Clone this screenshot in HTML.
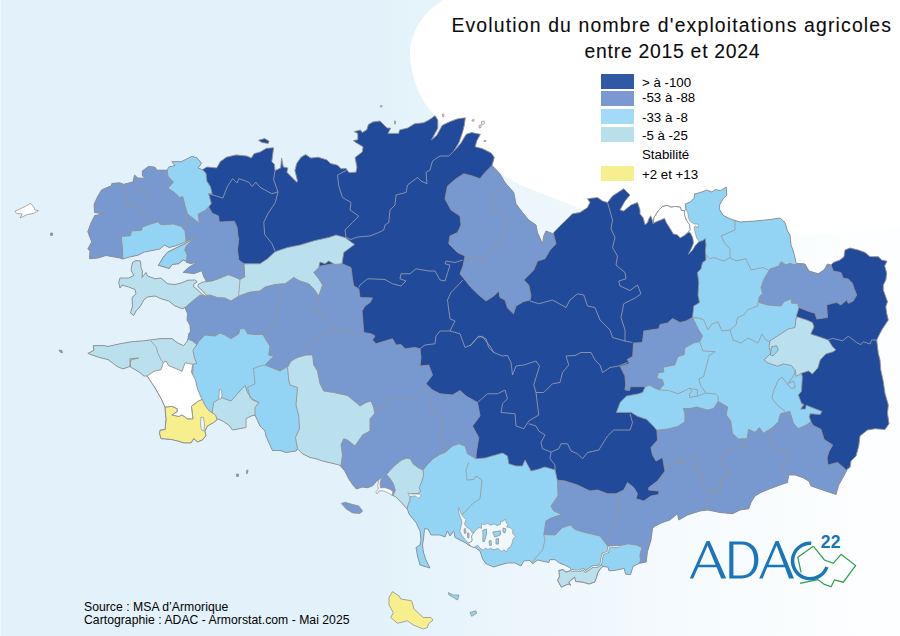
<!DOCTYPE html>
<html><head><meta charset="utf-8"><title>Evolution du nombre d'exploitations agricoles</title>
<style>
html,body{margin:0;padding:0;}
body{width:900px;height:636px;overflow:hidden;position:relative;font-family:"Liberation Sans",sans-serif;color:#111;
background:linear-gradient(90deg,#f3f9fd 0px,#f3f9fd 1px,#e3f2fa 1.5px,#e3f2fa 380px,#f3f9fd 640px,#fafdfe 790px,#fdfeff 900px);}
.ell{position:absolute;left:408px;top:-262px;width:640px;height:480px;border-radius:50%;background:#fff;}
.rw{position:absolute;left:800px;top:0;width:100px;height:636px;background:#fff;}
.t{position:absolute;white-space:nowrap;}
.title{font-size:19.4px;color:#0c0c0c;-webkit-text-stroke:0.1px #0c0c0c;}
.sw{position:absolute;left:601px;width:33px;height:15px;}
.lg{position:absolute;left:642px;font-size:12.3px;line-height:14px;white-space:nowrap;color:#000;transform:scaleX(1.08);transform-origin:0 0;}
.src{position:absolute;left:84px;font-size:12.2px;letter-spacing:0.03px;line-height:14px;white-space:nowrap;color:#000;}
</style></head><body>
<svg width="900" height="636" viewBox="0 0 900 636" style="position:absolute;left:0;top:0"><polygon points="455,-12 454.1,-11.1 452.9,-9.8 451.5,-8.2 449.9,-6.6 448.2,-4.8 446.5,-3.1 444.9,-1.4 443.3,0 441.8,1.3 440.2,2.4 438.6,3.5 437,4.6 435.5,5.6 433.9,6.7 432.5,7.8 431.1,8.9 429.8,10.1 428.6,11.3 427.4,12.5 426.3,13.8 425.2,15 424.2,16.3 423.2,17.6 422.2,18.9 421.3,20.2 420.3,21.6 419.5,22.9 418.6,24.3 417.8,25.7 417,27.1 416.3,28.6 415.6,30 414.9,31.5 414.2,32.9 413.6,34.4 413,36 412.4,37.5 411.9,39 411.5,40.6 411.1,42.2 410.8,43.8 410.5,45.4 410.3,47 410.1,48.7 410,50.4 410,52.1 410,53.8 410,55.6 410.1,57.4 410.3,59.3 410.5,61.3 410.8,63.2 411.1,65.2 411.4,67.2 411.8,69.1 412.2,71.1 412.6,73 413.1,75 413.6,76.9 414.1,78.9 414.7,80.9 415.3,82.8 416,84.8 416.7,86.7 417.5,88.7 418.3,90.6 419.3,92.6 420.2,94.6 421.2,96.5 422.2,98.5 423.3,100.4 424.4,102.2 425.5,104 426.7,105.7 427.9,107.4 429.1,109 430.4,110.7 431.7,112.3 433,113.9 434.4,115.6 435.8,117.3 437.3,118.9 438.8,120.6 440.3,122.3 441.9,123.9 443.5,125.6 445.2,127.3 447,129 448.8,130.7 450.7,132.4 452.6,134.1 454.6,135.8 456.6,137.5 458.7,139.3 460.8,141.1 463,143 465.2,145 467.5,147.1 469.8,149.2 472.2,151.4 474.6,153.6 477,155.8 479.5,157.9 482,160 484.6,162.1 487.2,164.1 489.9,166.2 492.7,168.2 495.4,170.2 498.1,172.1 500.7,173.9 503.3,175.6 505.8,177.1 508.1,178.5 510.4,179.8 512.7,181 515,182.2 517.3,183.3 519.7,184.4 522.2,185.6 524.8,186.8 527.5,187.9 530.3,189 533.1,190.1 535.9,191.1 538.8,192.2 541.6,193.3 544.4,194.4 547.2,195.5 550.1,196.7 553.1,197.9 556,199.1 558.8,200.2 561.6,201.3 564.2,202.3 566.7,203.3 568.8,204.1 570.5,204.8 572,205.4 573.5,206 575.1,206.6 576.9,207.3 579.2,208 582.2,208.9 585.7,209.9 589.6,211.1 593.8,212.3 598.3,213.6 603.2,214.9 608.5,216.3 614.1,217.7 620,219 626.3,220.4 633,221.8 640,223.3 647.4,224.8 655.1,226.2 663.1,227.6 671.4,228.9 680,230 689,231.1 698.6,232.1 708.5,233 718.8,233.9 729.1,234.6 739.5,235.2 749.9,235.7 760,236 770.1,236.1 780.2,236 790.4,235.8 800.6,235.4 810.7,234.9 820.7,234.3 830.5,233.7 840,233 849.7,232.2 859.8,231.2 870.1,230 880,228.8 889.3,227.6 897.7,226.6 904.7,225.7 910,225 910,-12" fill="#fff"/></svg>
<svg width="900" height="636" viewBox="0 0 900 636" style="position:absolute;left:0;top:0">
<defs><clipPath id="land"><polygon points="89.5,258.75 90,251 87.8,249 91.7,241.9 87.8,231.8 90.9,223.2 94.8,215.4 103.4,213.9 94.5,212.5 94,204.5 97.9,196 101.8,189.7 111.2,185.8 111.9,183.5 119.7,182.7 123.6,184.3 133,181.9 134.5,174.9 137.6,178 145.4,178 142.3,175.7 142.3,171 148.5,166.4 154.8,167.1 157.1,170.2 167.2,170.2 168.8,167.1 175,165.6 171.9,161.7 181.2,161.7 192.1,156.2 197.1,158.1 201.6,163.4 198,167.9 202.4,169.7 206.9,167 216.7,167.9 219,164 220.2,161.7 226.4,157.2 236.2,154.9 246.9,156 251.3,158.1 254,153.7 260.2,151.9 266.4,148.3 273.6,147.8 272.7,154.6 271.8,161.7 274.4,164.3 275,170.6 280.7,167.9 281.6,158.1 283.3,167 287.8,167.9 286.9,172.3 292.2,177.7 296.7,182.1 297.6,181.2 294.9,170.6 296.7,163.4 301.1,157.2 305.6,154.6 310.9,158.1 318,157.2 326.9,159.9 330.4,163.4 337.6,165.2 341.1,168.8 346.2,168.5 348.9,172.6 356,172.2 356.9,167.2 355.1,157.4 362.2,152.1 363.1,146.8 356.9,143.2 353.3,140.6 357.8,139.7 357.8,133.4 354.2,131.7 360.4,129.9 362.2,132.6 366.7,129.9 368.4,124.6 372.9,121.9 380,121 383.6,124.6 387.1,128.1 390.7,128.1 388,133.4 398.7,133.4 399.6,129.9 407.6,128.1 414.7,123.7 423.6,122.8 428.9,120.1 435.1,115.7 437.8,120.1 437.8,128.1 431.6,139.7 436.9,135.2 442.2,125.4 449.3,121.9 457.3,118.9 465.3,117.8 464.4,124.6 462.7,131.7 459.1,142.3 453.8,151.2 460.9,143.2 466.2,134.3 471.6,132.6 480.4,134.3 476.9,140.6 475.1,146.8 482.2,148.6 491.1,153 494.3,157.4 492,165.4 500,173.75 505,182.5 513.75,192.5 516,203.75 522.5,212.5 528.75,220 536,225 537.5,232.5 542.5,243.75 543.75,236 546,231 553.75,234 553.75,232.5 560,226 567.5,218.75 572.5,213.75 580,212.5 587.5,207.5 590,202.5 587.5,198.75 597.5,197.5 602.5,201 607.5,202.5 612.5,196 623.75,188.75 630,195 625,201 620,210 623.75,211 631,205 637.5,202.5 640,210 640,214 643.1,217.7 645,224.7 647.5,222.8 648.8,219 650.7,215.8 651.9,219 653.2,223.4 653.8,217.7 658.2,210.8 662.6,206.4 667,205.2 670.8,207 675.2,206.4 680.3,207 681.5,210.2 684.7,210.8 685.9,208.9 685.3,203.9 690.3,202 694.1,198.2 694.7,193.8 700.4,192.6 706.7,190 711.7,192 715.5,189.4 720.5,190.7 726.2,186.9 726.8,195 723,198.9 719.9,204.5 719.2,208.9 723,215.2 730.6,219 740,222 755,221 770,219.5 780,218 785,222.5 787.5,231 790,235 791,245 793.75,252.5 796,262.5 796.7,263.3 805,264 809,271 818.3,273.7 824,270 827.5,264 831,265 833.3,262.5 840,260 844,256.7 845,250 850,248 858.3,250 865,252.5 870,256.7 878.3,256.7 881.7,260 887,261.3 884.7,265.8 886.7,273.3 885.8,280 883.3,285 883.3,290 887.5,301.7 885.8,306.7 886.7,313.3 888.3,320 881.7,330 878.3,336.7 876.7,340 878.3,353.3 880,360 880.8,370 883.3,381.7 885,393.3 888.3,405 887.5,413.3 889,423.75 885,429.5 875,428.75 867.5,430 860,436 858.75,446 856,456 851,461 850,467.5 847.5,468.75 845,473.75 838.75,485 836,494.5 822.5,490 811,486 808.75,481 802.5,477.5 795,475 788.75,475 787.5,482.5 780,485 770,488.75 761,492.5 755,496 751,502.5 748.75,508.75 740,510 732.5,513.75 720,512.5 707.5,510 700,511 687.5,515 678.75,520 677.5,513.75 670,520 662.5,522.5 655,526 652.5,528.75 651,540 647.5,551.4 646.2,562.1 639.3,563.3 633,566.5 630.5,574.7 625.5,574 624.2,568.4 615.4,570.3 609.1,570.9 607.9,567.1 602.8,566.5 600.3,569 597.8,572.8 596.5,577.8 594.7,582.2 589,584.1 582.7,582.2 575.8,581.6 574.5,577.2 568.9,582.2 570.8,585.3 568.2,584.1 561.3,587.2 557.5,580.3 559.4,576.5 558.8,570.3 563.2,569.6 565.7,572.1 571.4,570.3 570.1,567.7 565.1,565.2 558.8,562.7 555,559.6 550,559.6 548.75,562.5 537.5,560 532.5,563.75 530,560.5 523.75,561 521,566 515,563 507.5,563 500,565 493.75,567 486,563.75 482.5,558.75 480,551 475,547.5 470,546 465,542.5 460,540 455,537.5 453.75,531 450,536 447.5,531 445,537 440,535 431,535 428,529 424.5,528.75 423.5,538.75 422.5,545 423.5,552.5 426,560 430,568 420,565 417.5,556 416,547.5 420,545 421,540 420,531 416,522.5 414.2,520.4 409.2,514.2 407.3,509.1 400.4,501.6 395.3,496.5 392.2,495.3 392.8,491.5 390.3,489.6 385.3,487.7 380.3,487.7 380,482.7 380.2,479 379,479.6 376.5,481.4 372.7,485.8 367.7,487.7 362,487.1 356.4,489 352.6,484.6 348.8,478.9 345,471.4 340.5,465.7 337.5,464.5 322.5,461 316,458.75 310,457.5 302.5,453.75 297.5,448.75 296,451 286,452.5 280,450.5 272.5,450.5 271,447.5 266,436 265,431 260,426 255,415 251,416 246,418.75 246,427.5 232.5,430 228.75,425 222.5,421 217.5,418.75 217.1,419.6 213.75,422.5 207.5,426 205,431 206,435.5 202.5,440 197.5,442 193.75,438.75 191,443 183.75,443 177.5,441 171,439.5 161,438.75 159.5,433.75 160,430 165,429.5 166,418.75 165.7,417.2 164.9,407.1 161,398.5 154.8,387.6 147,376 143.9,376 139.2,372.1 130.5,367 129.8,358.8 138.4,358 130.8,360 129.8,366.6 122.8,368.9 117.4,366.6 108,359.6 98.7,357.3 87.8,353.4 94,350.2 93.2,345.6 103.4,345.6 108,346.4 118.9,344 131.4,341.7 142.3,340.9 161,338.6 171.9,338.6 178.1,343.2 183.6,345.6 187.5,340.9 189,333.1 190.5,332.5 190,325.5 187,320 187.5,313.75 185,307.5 182.5,308.75 175,306 168.75,301 161,298.75 155,296 147.5,297 143.75,300 140.5,306 136,311 133.75,315.5 130.5,313 132.5,306 132,297.5 136,293.75 135,289.5 128.75,287 122,285 120,288 118.75,282.5 120,278 128.75,278 133.75,275.5 131,270 132.5,262.5 136,260.5 140.5,261 141,267.5 142.5,271 142,277.5 146,272.5 147.5,276 155,278.75 161,278 167.5,283.75 175,284.5 181,283 187.9,280.2 194.9,279.9 197.2,281.7 194.1,284 193.3,286.4 196.4,288.7 199.6,291.9 203.5,295 207.4,297.3 205,293.4 201.1,289.5 197.8,286.4 198.6,284 203.5,281.9 206.6,281.7 203.5,276.3 201.9,270.8 194.1,273.6 183.2,272.4 187.9,268 198,261.5 191,263.8 186.3,262.3 186.3,261.5 183.2,259.9 178.5,263.8 172.3,264.6 169.2,268.5 161.4,266.2 158.3,265.4 163,257.6 167.6,252.1 175.4,248.2 184.8,243.6 194.1,238.4 194.9,237.3 187.9,240.5 183.2,242.8 175.4,245.9 169.2,247.5 164.5,245.1 159.8,249 152,250.6 144.3,252.1 138,255.2 130.2,256.8 122.5,259.1 120,258 106,255.5 98,258"/></clipPath></defs>
<g clip-path="url(#land)">
<rect x="0" y="0" width="900" height="636" fill="#214a9b"/>
<polygon points="80,150 200,150 200,200 208.7,207 212.2,213.2 218.4,215.9 219.3,222.1 234.4,221.2 237.1,227.4 238,236.3 238.75,238.75 237.5,250 238.75,260 244,263.8 244.7,290 80,290" fill="#7899d0" stroke="#929292" stroke-width="0.9" stroke-linejoin="round"/>
<polygon points="342,263.75 351,267.5 352.5,278.75 353.75,286 358.75,288.75 360,297.5 372.5,298 370,302.5 365,306 362,311 363,322.5 363.75,332.5 371,333.75 375,336 372.5,340 376,343.75 385,341 392.5,338.75 396,345 401,344.5 405,348.75 415,347.5 420,348.75 421,357.5 420,366 428.75,365 432.5,375 426,383.75 432.5,390 440,393.75 452.5,395 460,390.5 466,396 477.5,402.5 480,416 472.5,426 478.75,437.5 476,455 476,458.75 476,475 430,480 400,500 340,510 320,470 250,470 250,350 180,350 180,300 200,290 245,285 300,270 342,262" fill="#7899d0" stroke="#929292" stroke-width="0.9" stroke-linejoin="round"/>
<polygon points="492,165.4 485,172.5 480,178.75 472.5,176 463.75,173.75 456,178.75 447.5,186 445,198.75 451,210 460,216 461,225 457.5,232.5 450,236 448.75,243.75 457.5,252.5 465,256 463,266 460,273.75 465,280 471,287.5 478.75,295 486,301 493.75,296 498.75,291 500,297.5 505,300 507.5,308 513.5,313.75 516,306 523.75,301.5 530,300 531,296 528.75,285 523.75,280 533.75,270 537.5,261 545,258.75 550,250 556,243.75 553.75,235 548,225 520,180 497,160" fill="#7899d0" stroke="#929292" stroke-width="0.9" stroke-linejoin="round"/>
<polygon points="692.5,317.5 686,321 680,322.5 672.5,318.5 667.5,323 660,324.5 658.75,328.75 643.75,331 642.5,342.5 633.5,343.1 632.7,356.4 627.3,359.5 629.6,363.4 620.2,366.5 624.9,375.8 625.7,385.2 624.9,389.8 629.6,390.6 630.4,386.7 642.1,386.7 645.2,386.7 650,395 705,395 705,315" fill="#7899d0" stroke="#929292" stroke-width="0.9" stroke-linejoin="round"/>
<polygon points="555,470 556,480 565,481 577.5,485 590,491 597.5,490 607.5,493.75 616,493.75 623.75,490 627.5,482.5 633.75,487.5 637.5,493.75 636,498.75 643.75,501 651,496 658.75,494.5 658.75,491 648.75,490 648.75,487.5 657.5,481 665,471 662.5,457.5 656,461 652.5,455 651,447.5 657.5,440 656.9,430.3 660,397 795,398 798,412 806,420 810.9,421.5 813.2,425.4 821,429.3 824.1,439.4 832.7,444.9 828.8,451.9 827,458 828,465 837.5,462.5 845,468.75 855,480 855,600 540,600 540,480" fill="#7899d0" stroke="#929292" stroke-width="0.9" stroke-linejoin="round"/>
<polygon points="167.2,170.2 168,176.5 173.5,181.9 168,188.2 175,192.8 179.7,197.5 182.8,196.7 185.1,206.1 187.5,213.9 195.3,220.1 199.2,223.2 198.4,213.9 205,210.5 208.7,207 211.3,203.4 208.7,193.7 212.2,193.7 210.4,186.6 206.9,181.2 206,173.2 202.4,169.7 202.4,150 167.2,150" fill="#93d4f5" stroke="#929292" stroke-width="0.9" stroke-linejoin="round"/>
<polygon points="122.8,259.1 122.5,249 121.3,236.4 130.6,235.7 131.4,231 141.5,230.2 142.3,227.1 148.5,224.8 157.9,221.7 161,224.8 173.5,224 181.2,226.3 185.1,231 185.9,238.8 186,241 183.2,244 170,249 160,251 145,254 125,263" fill="#93d4f5" stroke="#929292" stroke-width="0.9" stroke-linejoin="round"/>
<polygon points="194.1,238.4 186.3,245.9 184.8,249.8 187.1,255.2 186.3,261.5 183.2,259.9 178.5,263.8 172.3,264.6 169.2,268.5 161.4,266.2 158.3,265.4 163,257.6 167.6,252.1 175.4,248.2 184.8,243.6" fill="#93d4f5" stroke="#929292" stroke-width="0.9" stroke-linejoin="round"/>
<polygon points="196.8,344.8 199,341 205,335 215,336 220,333 225,335 231,338.75 238.75,333.75 240,328.75 245,328.75 247.5,333.75 255,334.5 263,334.5 266,340 270,346 268.75,355 273.75,356 265,365 272.5,368 280,371 290,365 300,365 300,455 250,455 200,420 185,400 185,345" fill="#93d4f5" stroke="#929292" stroke-width="0.9" stroke-linejoin="round"/>
<polygon points="423,470.1 428,463.8 433,458.8 440,454.4 445,452.5 452.5,446 458.75,443.75 465,446 467.5,453.75 476,458.75 485,458 502.5,453 507.5,456 508.75,463.75 516,466 522.5,466 525,460 531,471 537.5,469.5 545,467 555,470 557.5,481 558,496 551,506 553.75,511 562,514.5 551,518 546,521 543.75,534.5 555,535 562.5,527.5 570.5,525 575,529.5 585,532.5 600,536 605,542.5 607.5,546 608.5,547 619.2,545.7 628,543.8 636.8,545.1 641.8,547.6 639.9,555.2 640.6,560.2 639.3,563.3 639,590 405,590 405,480" fill="#93d4f5" stroke="#929292" stroke-width="0.9" stroke-linejoin="round"/>
<polygon points="699.1,241.6 702.9,240.4 705.4,238.5 706,245.4 705.4,250.4 706,260 702.5,262.5 701,268.75 697.5,272.5 698.75,282.5 698,295 699.5,302.5 693.75,306 692.5,317.5 693.75,320 698.75,330 702.5,336 699.7,341.6 693.5,343.1 684.9,347.8 684.1,354.8 677.9,356.4 674.8,364.9 663.1,367.3 663.9,371.9 658.4,372.7 656.9,378.2 662.3,379.7 663.9,384.4 659.2,389.8 653.7,387.5 649.8,385.2 645.2,386.7 642.8,392.2 638.9,393.7 626.5,396.1 620.2,402.3 616.4,412.4 631.2,412.4 637.4,416.3 646.7,419.4 653,425.7 656.9,430.3 668.5,428.8 677.9,426.4 684.9,421.8 684.9,413.2 683.3,408.5 690.3,408.5 696.6,407 707.5,410.1 713.7,408.5 717.6,402.3 718.4,401.5 727.7,407 726.2,414.8 730.8,421 732.4,433.5 738.6,439 743.75,438.75 747,438.7 748.6,429.3 754.8,432.4 759.5,427.8 763.4,433.2 771.2,428.5 778.2,422.3 780.5,413.7 789.8,411.4 793.7,423.9 798.4,428.5 807,424.6 810.9,421.5 809.3,416.9 810.1,413.7 820.2,414.5 821.8,411.4 806.2,405.2 805.4,409.1 800.7,409.1 803.9,404.4 801.5,403.6 798.4,395 801.5,391.2 802.3,377.1 801.5,373.2 799,368 796,360 795.5,328 796.7,315 799,307.5 803,300 803,180 684.5,180 684.5,203 685.3,209 686.5,215 688,221 692,226 692.5,232 694.5,238 697,241" fill="#93d4f5" stroke="#929292" stroke-width="0.9" stroke-linejoin="round"/>
<polygon points="796.7,263.3 805,264 809,271 818.3,273.7 824,270 827.5,264 831,265 833.3,271 841,272.5 843.3,278.3 848.3,279 852.5,283.3 854,288.3 856.7,295 853.3,301 848.3,303.3 846.7,300 841,305 836.7,302.5 832.5,303.3 826.7,305 827.5,317.5 816.7,319 815,313.3 807.5,311 799,307.5 797.5,303.3 791.7,303.3 791,299 784,301.7 781,306 767.5,305 759,302.5 759,297.5 762.5,293.3 761,287.5 764,279 770,269 779,266 781,261.7 786,265 790,263.3 795,265" fill="#7899d0" stroke="#929292" stroke-width="0.9" stroke-linejoin="round"/>
<polygon points="206.6,281.7 212,281 219,278.6 228.4,274.7 234.6,277 240,279.4 244.7,277 244,263.8 260,263.75 267.5,258.75 275,251.75 287.5,247.5 300,245 315,240.5 328.75,237.5 336,235 345,237.5 354.5,244.5 348.75,248.75 343.75,252.5 342,263.75 335,264.5 328.75,261 325,263.75 320,262 318.75,267.5 313.75,272.5 318.75,278.75 322.5,285 318.75,296 313.75,288.75 308.75,283.75 300,281 293.75,277.5 285,283.75 282.5,283.75 275,284.5 265,287 260,291 250,292 238.75,296 231,301 225,298 217.5,297.5 210,295 205,295.5 200,295 192.5,301 185,307.5 180,320 110,320 110,275 128,258.5 145,258.5 165,275 186,276.5 200,278.5" fill="#b9e0ec" stroke="#929292" stroke-width="0.9" stroke-linejoin="round"/>
<polygon points="186,336 187.5,338.75 192.5,341 196.8,344.8 192.9,350.2 194.5,358 196.8,363.5 192.9,364.3 192.5,385 140,385 80,360 80,335" fill="#b9e0ec" stroke="#929292" stroke-width="0.9" stroke-linejoin="round"/>
<polygon points="212.5,410 213.75,402.5 221,397.5 231,401 240,391 245,385.5 247.5,392.5 252.5,400 258.75,402.5 255,407.5 255,415 258,432 215,432 212,420" fill="#b9e0ec" stroke="#929292" stroke-width="0.9" stroke-linejoin="round"/>
<polygon points="287.5,367.5 291,361 297.5,357.5 306,355 312.5,355 313.75,365 317.5,371 320,383.75 323.75,391 333.75,392.5 347.5,395.5 356,402.5 360,406 366,402.5 371,401 373.75,407.5 374.5,413.75 370,418.75 370,431 362.5,435 355,446 347.5,440 343.75,438.75 341,445 342.5,455 341,465 335,472 295,460 297.5,448.75 295.5,437.5 299.5,428.75 298.75,416 296,405 297.5,387.5 290,385 288.75,380" fill="#b9e0ec" stroke="#929292" stroke-width="0.9" stroke-linejoin="round"/>
<polygon points="386.5,474.5 390.3,470.1 395.3,465.1 401.6,460.1 406.7,458.2 410.4,458.8 413,463.8 418,467.6 423,470.1 423.6,475.2 421.8,481.4 419.2,487.7 420.5,491.5 418,493.4 410.4,494 409.8,500.3 407.9,505.3 407.3,509.1 400,509 392.2,497 395.3,490.3 393.5,484 390.3,478.9" fill="#b9e0ec" stroke="#929292" stroke-width="0.9" stroke-linejoin="round"/>
<polygon points="571.4,570.3 565.7,572.1 563.2,569.6 558.8,570.3 559.4,576.5 557.5,580.3 561.3,587.2 568.2,584.1 570.8,585.3 568.9,582.2 574.5,577.2 575.8,581.6 582.7,582.2 589,584.1 594.7,582.2 596.5,577.8 597.8,572.8 600.3,569 602.8,566.5 600.9,564 597.8,566.5 592.8,566.5 589,569 585.8,571.5 582.7,569 579.6,570.9 575.2,570.9" fill="#b9e0ec" stroke="#929292" stroke-width="0.9" stroke-linejoin="round"/>
<polygon points="795.8,320 795,327.5 788.3,329 779,335 770,340.8 769,346.7 770.8,353.3 764,360 768,363 777.4,366.2 783.6,363.9 791.4,365.5 795.3,370.1 796.1,376.4 801.5,373.2 808.5,370.9 812.4,374 817.9,367.8 820.2,360 825.8,354 833.3,351.7 835.8,349.7 832.5,346.7 828.3,340 819,336.7 810.8,334 814,326.7 812.5,322.5 806.7,320 796.7,316.7" fill="#b9e0ec" stroke="#929292" stroke-width="0.9" stroke-linejoin="round"/>
<polygon points="771.7,346.7 776.7,345.8 778.3,350 773.3,355.8 770.3,355" fill="#93d4f5" stroke="#929292" stroke-width="0.9" stroke-linejoin="round"/>
<polygon points="164.9,407.1 171.9,406.3 177.3,408.7 177.3,411.8 171.9,414.9 178.9,416.4 182,414.9 187.5,418.8 192.9,418.8 191.4,406.3 198.4,400.9 202.3,399.3 204.6,404.8 209.3,411 215.5,414.9 217.1,419.6 213.75,422.5 207.5,426 205,431 206,435.5 202.5,440 197.5,442 193.75,438.75 191,443 183.75,443 177.5,441 171,439.5 161,438.75 159.5,433.75 160,430 165,429.5 166,418.75 165.7,417.2" fill="#f7ee8e" stroke="#929292" stroke-width="0.9" stroke-linejoin="round"/>
<polygon points="147,376 154,371.3 161,369.7 163.3,362.7 166,361 168.8,365.8 175,368.2 182,371.3 185.1,362.7 192.9,364.3 191.4,372.1 195.3,379.8 197.6,389.2 201.5,398.5 202.3,399.3 198.4,400.9 191.4,406.3 192.9,418.8 187.5,418.8 182,414.9 178.9,416.4 171.9,414.9 177.3,411.8 177.3,408.7 171.9,406.3 164.9,407.1 161,398.5 154.8,387.6" fill="#ffffff" stroke="#929292" stroke-width="0.9" stroke-linejoin="round"/>
<polygon points="653.2,223.4 653.8,217.7 658.2,210.8 662.6,206.4 667,205.2 670.8,207 675.2,206.4 680.3,207 681.5,210.2 684.7,210.8 684.7,215.2 686.5,220.3 689.7,224.7 690.3,229.7 688.4,232.2 684.7,235.3 680.3,237.9 677.1,234.7 673.3,234.1 670.8,229.7 666.4,222.8 664.5,218.4 660.1,220.3 655.7,222.1" fill="#ffffff" stroke="#929292" stroke-width="0.9" stroke-linejoin="round"/>
<polyline points="123.6,184.3 126.7,193.6 124.4,196.7 126,206.1 129.8,207.6 133.7,205.3 139.2,207.6 142.3,213.9 147,218.5 152.4,223.2" fill="none" stroke="#979797" stroke-width="0.8" stroke-linejoin="round"/>
<polyline points="133,181.9 136.9,188.9 143.9,190.5 148.5,193.6 148.5,196.7 151.7,192.8" fill="none" stroke="#979797" stroke-width="0.8" stroke-linejoin="round"/>
<polyline points="187.5,213.9 184.4,217 187.5,220.1 183.6,227.1" fill="none" stroke="#979797" stroke-width="0.8" stroke-linejoin="round"/>
<polyline points="208.7,193.7 222.9,198.1 227.3,186.6 232.7,178.6 237.1,183 238.9,178.6 248.7,182.1 252.2,186.6 255.8,182.1 260.2,187.4 271.8,193.7 278,191.9" fill="none" stroke="#9fa3ad" stroke-width="0.8" stroke-linejoin="round"/>
<polyline points="275,170.6 273.6,179.4 278,191.9 275.3,202.6 268.2,213.2 263.8,222.1 264.7,234.6 271.8,243.4 275,251" fill="none" stroke="#9fa3ad" stroke-width="0.8" stroke-linejoin="round"/>
<polyline points="347,170 337.5,175 338.75,186 342.5,197.5 351,202.5 350,210 358.75,216 352.5,222.5 345,230 346,237.5" fill="none" stroke="#9fa3ad" stroke-width="0.8" stroke-linejoin="round"/>
<polyline points="346,237.5 351,239.5 357.5,237 370,236 378.75,232.5 383.75,230 385,225 388.75,222.5 390,210 395,205 396,195 406,192.5 407.5,185 417.5,177.5 421,181 427,183.75 426,172.5 430,170 432.5,161 440,156 448.75,156 453.8,151.2" fill="none" stroke="#9fa3ad" stroke-width="0.8" stroke-linejoin="round"/>
<polyline points="505,182.5 500,190 493.75,195 491,210 503.75,213.75 507.5,227.5 501,231 503.75,241 493.75,247.5 485,260 476,258.75 466,256" fill="none" stroke="#979797" stroke-width="0.8" stroke-linejoin="round"/>
<polyline points="358.75,287.5 360,285 367.5,278.75 385,279.5 392.5,283.75 401,286 406,281 400,278.75 401,273.75 410,273.75 416,268.75 428.75,271 435,271 440,280 445,281 450,265 445,263.75 446,261 455,262.5 462.5,260" fill="none" stroke="#9fa3ad" stroke-width="0.8" stroke-linejoin="round"/>
<polyline points="463,280 451,292.5 447.5,300 448.75,310 450,318.75 455,321 450,331 440,331 436,336 435,343.75 425,345 420,348.75" fill="none" stroke="#9fa3ad" stroke-width="0.8" stroke-linejoin="round"/>
<polyline points="450,331 460,333.75 465,347.5 471,345 477.5,337.5 482.5,336 485,340 490,346 493.75,352.5 502.5,356 507.5,355.5 511,362.5 512.5,375 516,366 523.75,365 536,361 539.5,366 536,377.5 533.75,385 536,392.5 543.75,392.5 552.5,383.75 560,382.5 562.5,372.5 568.75,365 566,356 575,355.5 581,352.5 591,352.5 595,360 600,365 602.5,372.5 610,367.5 618.75,366 627.5,362.5" fill="none" stroke="#9fa3ad" stroke-width="0.8" stroke-linejoin="round"/>
<polyline points="470,346 478.75,336 486,338.75 488.75,347.5 493.75,352.5" fill="none" stroke="#9fa3ad" stroke-width="0.8" stroke-linejoin="round"/>
<polyline points="477.5,402.5 487.5,393.75 497.5,393.75 505,390 507.5,398.75 502.5,403.75 501,412.5 515,413.75 516,426 523.75,428.75 528.75,421 538.75,415 537.5,405 536,392.5" fill="none" stroke="#9fa3ad" stroke-width="0.8" stroke-linejoin="round"/>
<polyline points="528.75,423.75 536,426 538.75,431 545,435 541,442.5 542.5,448.75 551,452 558.75,448.75 561,443.75 567.5,443.75 571,451 577.5,453.75 582.5,458.75 587.5,452.5 598.75,450 605,440 607.5,436 613.75,430 630,430 632.5,422.5 630,413.75" fill="none" stroke="#9fa3ad" stroke-width="0.8" stroke-linejoin="round"/>
<polyline points="551,452 550,458.75 555,465 555,470" fill="none" stroke="#9fa3ad" stroke-width="0.8" stroke-linejoin="round"/>
<polyline points="530,301 538.75,303.75 552.5,300 566,307.5 570,300 577.5,293.75 583.75,295 587.5,306 595,307.5 600,320 610,330 612.5,337.5 625,341 632.5,342.5" fill="none" stroke="#9fa3ad" stroke-width="0.8" stroke-linejoin="round"/>
<polyline points="607.5,202.5 610,211 612.5,220 611,228.75 615,237.5 612.5,247.5 617.5,256 616,265 625,272.5 626,278.75 618.75,281 620,286 630,290.5 637.5,285 641,293.75 636,297.5 623.75,303.75 621,317.5 625,330 625,341" fill="none" stroke="#9fa3ad" stroke-width="0.8" stroke-linejoin="round"/>
<polyline points="282.5,283.75 281,297.5 277.5,310 275,322.5 267.5,328.75 263,334.5" fill="none" stroke="#979797" stroke-width="0.8" stroke-linejoin="round"/>
<polyline points="318.75,296 316,305 313.75,312.5 322.5,315 331,321 332.5,331 345,330 352.5,332.5 363,332" fill="none" stroke="#979797" stroke-width="0.8" stroke-linejoin="round"/>
<polyline points="332.5,331 322.5,335 311,340 307.5,348.75 306,355" fill="none" stroke="#979797" stroke-width="0.8" stroke-linejoin="round"/>
<polyline points="373.75,407.5 381,411 387.5,398.75 398.75,395.5 408.75,398.75 416,396 426,385.5" fill="none" stroke="#979797" stroke-width="0.8" stroke-linejoin="round"/>
<polyline points="432.5,390 429.5,402.5 431,410 440,416 442.5,426 440,436 443.75,442.5 445,452.5" fill="none" stroke="#979797" stroke-width="0.8" stroke-linejoin="round"/>
<polyline points="150.9,340.9 156.3,347.1 157.9,353.4 161,359.6 163.3,362.7" fill="none" stroke="#979797" stroke-width="0.8" stroke-linejoin="round"/>
<polyline points="240,279.4 239.3,288 238.5,295.5" fill="none" stroke="#979797" stroke-width="0.8" stroke-linejoin="round"/>
<polyline points="247.5,387.5 255,383.75 253.75,371 253,368.75 260,366 265,365" fill="none" stroke="#979797" stroke-width="0.8" stroke-linejoin="round"/>
<polyline points="247.5,387.5 250,397.5 258.75,402.5" fill="none" stroke="#979797" stroke-width="0.8" stroke-linejoin="round"/>
<polyline points="468.75,462.5 466,470 467,480 473.75,479.5 476,476 482,480 480,498.75 472.5,503.75 466,511 461,515" fill="none" stroke="#979797" stroke-width="0.8" stroke-linejoin="round"/>
<polyline points="543.75,534.5 545,540 542.5,550 536,557.5 531,563.75" fill="none" stroke="#979797" stroke-width="0.8" stroke-linejoin="round"/>
<polyline points="616,493.75 618.75,507.5 615,522.5 607.5,537.5 605,542.5" fill="none" stroke="#979797" stroke-width="0.8" stroke-linejoin="round"/>
<polyline points="665,467.5 680,460 682.5,465 685,458.75 696,456 698.75,463.75 692.5,467.5 700,472.5 702.5,487.5 711,492.5 720,490 721,481 730,472.5" fill="none" stroke="#979797" stroke-width="0.8" stroke-linejoin="round"/>
<polyline points="711,492.5 707.5,502.5 707.5,510" fill="none" stroke="#979797" stroke-width="0.8" stroke-linejoin="round"/>
<polyline points="743.75,438.75 746,445 735,448.75 723.75,451 721,465 728.75,467.5 730,472.5 721,480 720,487.5 722.5,490 712.5,492.5" fill="none" stroke="#979797" stroke-width="0.8" stroke-linejoin="round"/>
<polyline points="771.2,428.5 768,439.4 778.2,449.6 785.2,450.3 790,458 782.5,465 782.5,472.5 788.75,475" fill="none" stroke="#979797" stroke-width="0.8" stroke-linejoin="round"/>
<polyline points="675,458.75 681,460 683.75,463.75" fill="none" stroke="#979797" stroke-width="0.8" stroke-linejoin="round"/>
<polyline points="735,221 735,230 726,233.75 721,236 725,243.75 730,248.75 730,257.5 723.75,261 713.75,257.5 710,258.75 706,255" fill="none" stroke="#979797" stroke-width="0.8" stroke-linejoin="round"/>
<polyline points="730,257.5 736,261 746,258.75 751,270 762.5,267.5 768.75,270" fill="none" stroke="#979797" stroke-width="0.8" stroke-linejoin="round"/>
<polyline points="758.75,300 757.5,306 747.5,310 743.75,315 737.5,317.5 736,325 730,330 722,331 718,322 712,324 708,330 703.75,320 698.75,318 692.5,317.5" fill="none" stroke="#979797" stroke-width="0.8" stroke-linejoin="round"/>
<polyline points="659.2,389.8 668.5,390.6 677.9,393.7 684.9,390.6 689.6,388.3 691.9,391.4 689.6,393.7 689.6,397.6 697.4,396.1 705.9,393 712.1,393.7 715.3,393.7 718.4,396.9 718,401.5" fill="none" stroke="#979797" stroke-width="0.8" stroke-linejoin="round"/>
<polyline points="689.6,388.3 697.4,389.8 697.4,396.1" fill="none" stroke="#979797" stroke-width="0.8" stroke-linejoin="round"/>
<polyline points="699.7,341.6 702.8,350.9 715.3,351.7 709,355.6 705.9,368 703.6,376.6 698.9,378.9 700.5,385.2 705.9,393" fill="none" stroke="#979797" stroke-width="0.8" stroke-linejoin="round"/>
<polyline points="730,330 733,340 741,343 748,338 758,343 762,334 766,340 770,342" fill="none" stroke="#979797" stroke-width="0.8" stroke-linejoin="round"/>
<polyline points="795.3,370.1 793.7,375.6 788.3,383.4 793.7,381 795.3,387.3 791.4,388.8 786.7,383.4 782.1,377.1 778.2,380.2 773.5,391.2 771.9,398.2 777.4,405.2 785.2,411.4" fill="none" stroke="#979797" stroke-width="0.8" stroke-linejoin="round"/>
<polyline points="828.3,340 832.5,338.3 842.5,340.8 848.3,336.3 856.7,342.5 860.8,344.7 863.3,341.7 870,344 871.7,340 876.7,340" fill="none" stroke="#9fa3ad" stroke-width="0.8" stroke-linejoin="round"/>
</g>
<polygon points="89.5,258.75 90,251 87.8,249 91.7,241.9 87.8,231.8 90.9,223.2 94.8,215.4 103.4,213.9 94.5,212.5 94,204.5 97.9,196 101.8,189.7 111.2,185.8 111.9,183.5 119.7,182.7 123.6,184.3 133,181.9 134.5,174.9 137.6,178 145.4,178 142.3,175.7 142.3,171 148.5,166.4 154.8,167.1 157.1,170.2 167.2,170.2 168.8,167.1 175,165.6 171.9,161.7 181.2,161.7 192.1,156.2 197.1,158.1 201.6,163.4 198,167.9 202.4,169.7 206.9,167 216.7,167.9 219,164 220.2,161.7 226.4,157.2 236.2,154.9 246.9,156 251.3,158.1 254,153.7 260.2,151.9 266.4,148.3 273.6,147.8 272.7,154.6 271.8,161.7 274.4,164.3 275,170.6 280.7,167.9 281.6,158.1 283.3,167 287.8,167.9 286.9,172.3 292.2,177.7 296.7,182.1 297.6,181.2 294.9,170.6 296.7,163.4 301.1,157.2 305.6,154.6 310.9,158.1 318,157.2 326.9,159.9 330.4,163.4 337.6,165.2 341.1,168.8 346.2,168.5 348.9,172.6 356,172.2 356.9,167.2 355.1,157.4 362.2,152.1 363.1,146.8 356.9,143.2 353.3,140.6 357.8,139.7 357.8,133.4 354.2,131.7 360.4,129.9 362.2,132.6 366.7,129.9 368.4,124.6 372.9,121.9 380,121 383.6,124.6 387.1,128.1 390.7,128.1 388,133.4 398.7,133.4 399.6,129.9 407.6,128.1 414.7,123.7 423.6,122.8 428.9,120.1 435.1,115.7 437.8,120.1 437.8,128.1 431.6,139.7 436.9,135.2 442.2,125.4 449.3,121.9 457.3,118.9 465.3,117.8 464.4,124.6 462.7,131.7 459.1,142.3 453.8,151.2 460.9,143.2 466.2,134.3 471.6,132.6 480.4,134.3 476.9,140.6 475.1,146.8 482.2,148.6 491.1,153 494.3,157.4 492,165.4 500,173.75 505,182.5 513.75,192.5 516,203.75 522.5,212.5 528.75,220 536,225 537.5,232.5 542.5,243.75 543.75,236 546,231 553.75,234 553.75,232.5 560,226 567.5,218.75 572.5,213.75 580,212.5 587.5,207.5 590,202.5 587.5,198.75 597.5,197.5 602.5,201 607.5,202.5 612.5,196 623.75,188.75 630,195 625,201 620,210 623.75,211 631,205 637.5,202.5 640,210 640,214 643.1,217.7 645,224.7 647.5,222.8 648.8,219 650.7,215.8 651.9,219 653.2,223.4 653.8,217.7 658.2,210.8 662.6,206.4 667,205.2 670.8,207 675.2,206.4 680.3,207 681.5,210.2 684.7,210.8 685.9,208.9 685.3,203.9 690.3,202 694.1,198.2 694.7,193.8 700.4,192.6 706.7,190 711.7,192 715.5,189.4 720.5,190.7 726.2,186.9 726.8,195 723,198.9 719.9,204.5 719.2,208.9 723,215.2 730.6,219 740,222 755,221 770,219.5 780,218 785,222.5 787.5,231 790,235 791,245 793.75,252.5 796,262.5 796.7,263.3 805,264 809,271 818.3,273.7 824,270 827.5,264 831,265 833.3,262.5 840,260 844,256.7 845,250 850,248 858.3,250 865,252.5 870,256.7 878.3,256.7 881.7,260 887,261.3 884.7,265.8 886.7,273.3 885.8,280 883.3,285 883.3,290 887.5,301.7 885.8,306.7 886.7,313.3 888.3,320 881.7,330 878.3,336.7 876.7,340 878.3,353.3 880,360 880.8,370 883.3,381.7 885,393.3 888.3,405 887.5,413.3 889,423.75 885,429.5 875,428.75 867.5,430 860,436 858.75,446 856,456 851,461 850,467.5 847.5,468.75 845,473.75 838.75,485 836,494.5 822.5,490 811,486 808.75,481 802.5,477.5 795,475 788.75,475 787.5,482.5 780,485 770,488.75 761,492.5 755,496 751,502.5 748.75,508.75 740,510 732.5,513.75 720,512.5 707.5,510 700,511 687.5,515 678.75,520 677.5,513.75 670,520 662.5,522.5 655,526 652.5,528.75 651,540 647.5,551.4 646.2,562.1 639.3,563.3 633,566.5 630.5,574.7 625.5,574 624.2,568.4 615.4,570.3 609.1,570.9 607.9,567.1 602.8,566.5 600.3,569 597.8,572.8 596.5,577.8 594.7,582.2 589,584.1 582.7,582.2 575.8,581.6 574.5,577.2 568.9,582.2 570.8,585.3 568.2,584.1 561.3,587.2 557.5,580.3 559.4,576.5 558.8,570.3 563.2,569.6 565.7,572.1 571.4,570.3 570.1,567.7 565.1,565.2 558.8,562.7 555,559.6 550,559.6 548.75,562.5 537.5,560 532.5,563.75 530,560.5 523.75,561 521,566 515,563 507.5,563 500,565 493.75,567 486,563.75 482.5,558.75 480,551 475,547.5 470,546 465,542.5 460,540 455,537.5 453.75,531 450,536 447.5,531 445,537 440,535 431,535 428,529 424.5,528.75 423.5,538.75 422.5,545 423.5,552.5 426,560 430,568 420,565 417.5,556 416,547.5 420,545 421,540 420,531 416,522.5 414.2,520.4 409.2,514.2 407.3,509.1 400.4,501.6 395.3,496.5 392.2,495.3 392.8,491.5 390.3,489.6 385.3,487.7 380.3,487.7 380,482.7 380.2,479 379,479.6 376.5,481.4 372.7,485.8 367.7,487.7 362,487.1 356.4,489 352.6,484.6 348.8,478.9 345,471.4 340.5,465.7 337.5,464.5 322.5,461 316,458.75 310,457.5 302.5,453.75 297.5,448.75 296,451 286,452.5 280,450.5 272.5,450.5 271,447.5 266,436 265,431 260,426 255,415 251,416 246,418.75 246,427.5 232.5,430 228.75,425 222.5,421 217.5,418.75 217.1,419.6 213.75,422.5 207.5,426 205,431 206,435.5 202.5,440 197.5,442 193.75,438.75 191,443 183.75,443 177.5,441 171,439.5 161,438.75 159.5,433.75 160,430 165,429.5 166,418.75 165.7,417.2 164.9,407.1 161,398.5 154.8,387.6 147,376 143.9,376 139.2,372.1 130.5,367 129.8,358.8 138.4,358 130.8,360 129.8,366.6 122.8,368.9 117.4,366.6 108,359.6 98.7,357.3 87.8,353.4 94,350.2 93.2,345.6 103.4,345.6 108,346.4 118.9,344 131.4,341.7 142.3,340.9 161,338.6 171.9,338.6 178.1,343.2 183.6,345.6 187.5,340.9 189,333.1 190.5,332.5 190,325.5 187,320 187.5,313.75 185,307.5 182.5,308.75 175,306 168.75,301 161,298.75 155,296 147.5,297 143.75,300 140.5,306 136,311 133.75,315.5 130.5,313 132.5,306 132,297.5 136,293.75 135,289.5 128.75,287 122,285 120,288 118.75,282.5 120,278 128.75,278 133.75,275.5 131,270 132.5,262.5 136,260.5 140.5,261 141,267.5 142.5,271 142,277.5 146,272.5 147.5,276 155,278.75 161,278 167.5,283.75 175,284.5 181,283 187.9,280.2 194.9,279.9 197.2,281.7 194.1,284 193.3,286.4 196.4,288.7 199.6,291.9 203.5,295 207.4,297.3 205,293.4 201.1,289.5 197.8,286.4 198.6,284 203.5,281.9 206.6,281.7 203.5,276.3 201.9,270.8 194.1,273.6 183.2,272.4 187.9,268 198,261.5 191,263.8 186.3,262.3 186.3,261.5 183.2,259.9 178.5,263.8 172.3,264.6 169.2,268.5 161.4,266.2 158.3,265.4 163,257.6 167.6,252.1 175.4,248.2 184.8,243.6 194.1,238.4 194.9,237.3 187.9,240.5 183.2,242.8 175.4,245.9 169.2,247.5 164.5,245.1 159.8,249 152,250.6 144.3,252.1 138,255.2 130.2,256.8 122.5,259.1 120,258 106,255.5 98,258" fill="none" stroke="#929292" stroke-width="0.9" stroke-linejoin="round"/>
<polygon points="684.7,210.8 685.9,208.9 687.8,212.7 688.4,217.7 690.3,221.5 694.1,224 697.9,224 698.5,227.8 695.3,225.9 694.1,227.8 695.3,232.8 696.6,237.9 699.1,241.6 695.3,245.4 692.8,249.8 688.4,254.2 691.6,247.9 693.5,242.9 692.8,237.9 690.3,232.8 688.4,232.2 690.3,229.7 689.7,224.7 686.5,220.3 684.7,215.2" fill="#ffffff" stroke="#929292" stroke-width="0.7" stroke-linejoin="round"/>
<polygon points="476.5,529.6 479,527.5 481.5,528.3 481.5,523.9 484.5,524.5 487.8,523.3 490.3,525.2 494.1,523.9 497,525.5 500.4,524.5 501,520.8 503,521.5 505.4,518.9 506,522 507.9,524.5 506.7,527 510,527.5 513,530.2 512.5,533 515.5,536.5 513,539 512.3,542.8 510.4,547.2 508.5,548 506.7,551.6 503.5,550 501.6,551.6 497.9,548.4 494.1,549.7 490.3,548.4 487.8,549.5 485.5,548 483.4,550.3 480.3,548.4 477.7,545.3 474,547.5 470.5,546 468.5,543 472,541 471.5,536 474,532" fill="#eef7fc" stroke="#929292" stroke-width="0.7" stroke-linejoin="round"/>
<polygon points="458.2,508.2 459,507.5 460.5,512.6 463,516.4 466,519.5 464.5,524 467,527.5 470,529 472,532.5 474,532 471.5,536 472,541 468.5,543 465,539.5 461.5,535 459.8,531 460.8,527 462,522 460.5,518 458.8,513" fill="#eef7fc" stroke="#929292" stroke-width="0.7" stroke-linejoin="round"/>
<polygon points="379,479.6 377.7,485.2 378.4,489 375.8,492.1 377.1,494 379,490.9 383.4,490.9 387.8,492.8 392.2,495.3 392.8,491.5 390.3,489.6 385.3,487.7 380.3,487.7 380,482.7 381.5,478.3" fill="#f6fbfe" stroke="#929292" stroke-width="0.7" stroke-linejoin="round"/>
<polygon points="407.9,492.8 409.8,496.5 415.5,495.9 418,498.4 421.8,495.9 419.2,494 415.5,494 410.4,494" fill="#f6fbfe" stroke="#929292" stroke-width="0.7" stroke-linejoin="round"/>
<polygon points="201,417 203.5,417.5 204.5,424 204,431 201.5,430 200.5,424" fill="#eef7fc" stroke="#929292" stroke-width="0.7" stroke-linejoin="round"/>
<polygon points="219.5,389.5 221.5,390 222,396 220.5,399.5 218.75,398" fill="#eef7fc" stroke="#929292" stroke-width="0.7" stroke-linejoin="round"/>
<polyline points="618.6,546.4 608.5,547 607.9,552 602.8,553.9 601.6,558.9 600.9,564 597.8,566.5 592.8,566.5 589,569 585.8,571.5 582.7,569 579.6,570.9 575.2,570.9 571.4,570.3" fill="none" stroke="#929292" stroke-width="2.4" stroke-linejoin="round"/>
<polyline points="618.6,546.4 608.5,547 607.9,552 602.8,553.9 601.6,558.9 600.9,564 597.8,566.5 592.8,566.5 589,569 585.8,571.5 582.7,569 579.6,570.9 575.2,570.9 571.4,570.3" fill="none" stroke="#e4f1f8" stroke-width="1.0" stroke-linejoin="round"/>
<polygon points="464,529 465.5,528.5 466,533 464.5,533.5" fill="#93d4f5" stroke="#929292" stroke-width="0.8" stroke-linejoin="round"/>
<polygon points="467.5,533 469,533 469,538 467.5,537.5" fill="#93d4f5" stroke="#929292" stroke-width="0.8" stroke-linejoin="round"/>
<polygon points="482.8,530.2 486.5,529 486.5,534 484.5,541.5 482.8,541.5 483,535" fill="#93d4f5" stroke="#929292" stroke-width="0.8" stroke-linejoin="round"/>
<polygon points="492.8,532 500.4,530.8 500.4,535 494.7,537.1" fill="#93d4f5" stroke="#929292" stroke-width="0.8" stroke-linejoin="round"/>
<polygon points="496,539 498.5,538.5 498.5,544 496,544" fill="#93d4f5" stroke="#929292" stroke-width="0.8" stroke-linejoin="round"/>
<polygon points="503,528 506,529 505,533 503,532" fill="#93d4f5" stroke="#929292" stroke-width="0.8" stroke-linejoin="round"/>
<polygon points="489,541 491,540.5 491.5,545 489.5,545.5" fill="#93d4f5" stroke="#929292" stroke-width="0.8" stroke-linejoin="round"/>
<polygon points="380.5,105.5 382,105.5 382,107 380.5,107" fill="#ffffff" stroke="#929292" stroke-width="0.8" stroke-linejoin="round"/>
<polygon points="394.5,121 395.5,121 395.5,124 394.5,124" fill="#ffffff" stroke="#929292" stroke-width="0.8" stroke-linejoin="round"/>
<polygon points="442.5,114 444,114.5 443.5,117 442.5,116.5" fill="#ffffff" stroke="#929292" stroke-width="0.8" stroke-linejoin="round"/>
<polygon points="472,120 474,119.5 474,121 472,121" fill="#ffffff" stroke="#929292" stroke-width="0.8" stroke-linejoin="round"/>
<polygon points="484,140.5 486,140.5 486,141.5 484,141.5" fill="#ffffff" stroke="#929292" stroke-width="0.8" stroke-linejoin="round"/>
<polygon points="15,211.2 22.3,207.9 26.8,205.6 30.7,203.4 33.5,206.7 35.2,210 38.5,210.6 33.5,213.4 27.3,214.5 20,217.9 22.3,214 16.7,213.4" fill="#ffffff" stroke="#929292" stroke-width="0.8" stroke-linejoin="round"/>
<polygon points="341.3,503.5 345,502.2 351.3,504.1 358.9,506 362.6,511 360.1,513.5 352.6,512.9 346.3,509.1" fill="#7899d0" stroke="#929292" stroke-width="0.8" stroke-linejoin="round"/>
<polygon points="392.5,591.7 399,595.8 400.8,599 411.7,600.8 414,609 423.3,617.5 430.8,617.5 433,620 428.3,624 427.5,627.5 423.3,629 413.3,625 407.5,620.8 397.5,623.3 390.8,617.5 393.3,612.5 389,605 389,597.5" fill="#f7ee8e" stroke="#929292" stroke-width="0.8" stroke-linejoin="round"/>
<polygon points="448.3,592.5 453.3,595 459,595 457.5,600 453.3,597.5 449,595" fill="#93d4f5" stroke="#929292" stroke-width="0.8" stroke-linejoin="round"/>
<polygon points="470,612.5 475.8,610.8 476.7,613.3 471.7,616.3" fill="#93d4f5" stroke="#929292" stroke-width="0.8" stroke-linejoin="round"/>
<polygon points="258.4,140.3 264.7,138.6 269.1,141.2 268.2,143.5 262,142.5" fill="#214a9b" stroke="#929292" stroke-width="0.8" stroke-linejoin="round"/>
<polygon points="50.5,233 52.5,233 52.5,235.5 50.5,235.5" fill="#7899d0" stroke="#929292" stroke-width="0.8" stroke-linejoin="round"/>
<polygon points="59,350 62,350.5 62.5,353 60,352" fill="#7899d0" stroke="#929292" stroke-width="0.8" stroke-linejoin="round"/>
<polygon points="236.5,474 238.5,474 238.5,476.5 236.5,476.5" fill="#7899d0" stroke="#929292" stroke-width="0.8" stroke-linejoin="round"/>
<polygon points="246.5,470.5 248,470 247.5,473.5 246.5,473.5" fill="#7899d0" stroke="#929292" stroke-width="0.8" stroke-linejoin="round"/>
<polygon points="481.5,121.5 484,121 484.5,123.5 482,125" fill="#ffffff" stroke="#929292" stroke-width="0.8" stroke-linejoin="round"/>
<polygon points="479,125.5 481,125 481,127.5 479,128" fill="#ffffff" stroke="#929292" stroke-width="0.8" stroke-linejoin="round"/>
</svg>
<div class="t title" id="t1" style="top:13.6px;left:451.4px;letter-spacing:1.16px">Evolution du nombre d'exploitations agricoles</div>
<div class="t title" id="t2" style="top:40px;left:584.6px;letter-spacing:0.72px">entre 2015 et 2024</div>
<div class="sw" style="top:73.5px;background:#2f58a5"></div>
<div class="sw" style="top:91.2px;background:#7b99d0"></div>
<div class="sw" style="top:109px;background:#a3daf7"></div>
<div class="sw" style="top:126.5px;background:#b9dfeb"></div>
<div class="sw" style="top:166.2px;background:#f7ee90"></div>
<div class="lg" style="top:76.3px">&gt; à -100</div>
<div class="lg" style="top:91.4px">-53 à -88</div>
<div class="lg" style="top:111.1px">-33 à -8</div>
<div class="lg" style="top:129.1px">-5 à -25</div>
<div class="lg" style="top:148.3px">Stabilité</div>
<div class="lg" style="top:168.4px">+2 et +13</div>
<div class="src" style="top:599.7px">Source : MSA d’Armorique</div>
<div class="src" style="top:612.8px">Cartographie : ADAC - Armorstat.com - Mai 2025</div>
<svg width="900" height="636" viewBox="0 0 900 636" style="position:absolute;left:0;top:0">
<g fill="#1b75bc" stroke="none">
<path d="M689.8,578.4 L706.6,540.9 L709.6,540.9 L726.2,578.4 L721.2,578.4 L716.6,567.3 L698.2,567.3 L693.2,578.4 Z M699.3,564.7 L715.5,564.7 L707.6,545.6 Z"/>
<path d="M759.2,578.4 L775.6,540.9 L778.6,540.9 L794,578.4 L789,578.4 L784.9,567.3 L767.3,567.3 L762.6,578.4 Z M768.4,564.7 L783.9,564.7 L776.6,545.6 Z"/>
<path d="M729.3,541.6 L741.5,541.6 C752.5,541.6 758.4,549.2 758.4,559.6 C758.4,570.6 752.5,578.4 741.5,578.4 L729.3,578.4 Z M733.4,544.4 L733.4,575.6 L741,575.6 C749.6,575.6 754.2,569.3 754.2,559.7 C754.2,550.4 749.6,544.4 741,544.4 Z"/>
</g>
<path d="M811.2,543.3 A17.7,17.7 0 1 0 826.9,567" fill="none" stroke="#1b75bc" stroke-width="3.5"/>
<polyline points="813.3,546.2 797.8,557.3 801.1,572.5" fill="none" stroke="#2e9e4e" stroke-width="1.2"/>
<polyline points="800,583.3 817.8,579.6 824.4,584.4 831.1,586.7 834.4,580 843.3,582.2 855.6,565.6 841.1,554.4 833.3,563.3 824.4,560 813.3,546.2" fill="none" stroke="#2e9e4e" stroke-width="1.2"/>
</svg>
<div class="t" style="left:820.8px;top:532.4px;font-size:17.6px;font-weight:bold;color:#1b75bc;letter-spacing:0.2px">22</div>
</body></html>
